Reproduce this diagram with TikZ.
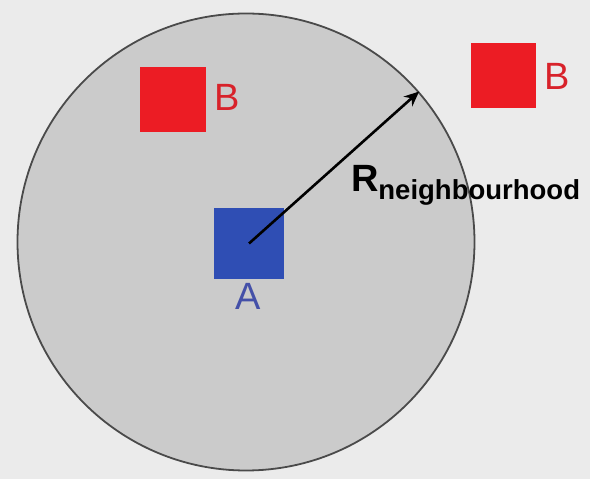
\documentclass[tikz,border=0pt]{standalone}
\usepackage{fontspec}
\setmainfont{Liberation Sans}
\usetikzlibrary{arrows.meta}
\definecolor{bgc}{HTML}{EBEBEB}
\definecolor{discfill}{HTML}{CBCBCB}
\definecolor{discline}{HTML}{4A4A4A}
\definecolor{redsq}{HTML}{EC1C24}
\definecolor{redtxt}{HTML}{D8222A}
\definecolor{bluesq}{HTML}{2F4EB4}
\definecolor{bluetxt}{HTML}{4450A8}
\tikzset{
  x=1pt, y=1pt,
  sq/.style={draw=none, inner sep=0pt, outer sep=0pt},
  lbl/.style={inner sep=0pt, outer sep=0pt, font=\fontsize{38}{38}\selectfont},
  radius arrow/.style={line width=2.6pt, -{Stealth[length=15pt,width=13pt]}, black}
}
\begin{document}
\begin{tikzpicture}
\fill[bgc] (0,0) rectangle (590,479);
\useasboundingbox (0,0) rectangle (590,479);
% neighbourhood disc
\node[circle, draw=discline, fill=discfill, line width=1.8pt, minimum size=457pt, inner sep=0pt] (nb) at (246,237) {};
% squares
\node[sq, fill=bluesq, minimum width=70pt, minimum height=71pt] (a) at (249,235.5) {};
\node[sq, fill=redsq, minimum width=66pt, minimum height=65pt] (b1) at (173,379.5) {};
\node[sq, fill=redsq, minimum width=65pt, minimum height=65pt] (b2) at (503.5,403.5) {};
% labels
\node[lbl, text=bluetxt, anchor=base] (la) at (248.5,169) {A};
\node[lbl, text=redtxt, anchor=base west] (lb1) at (214,368) {B};
\node[lbl, text=redtxt, anchor=base west] (lb2) at (544,389) {B};
\node[inner sep=0pt, outer sep=0pt, anchor=base west] (lr) at (351,287)
  {\fontsize{38}{38}\selectfont\bfseries R\raisebox{-8pt}{\fontsize{27.5}{27.5}\selectfont neighbourhood}};
% radius arrow
\draw[radius arrow] (a.center) -- (nb.41);
\end{tikzpicture}
\end{document}
